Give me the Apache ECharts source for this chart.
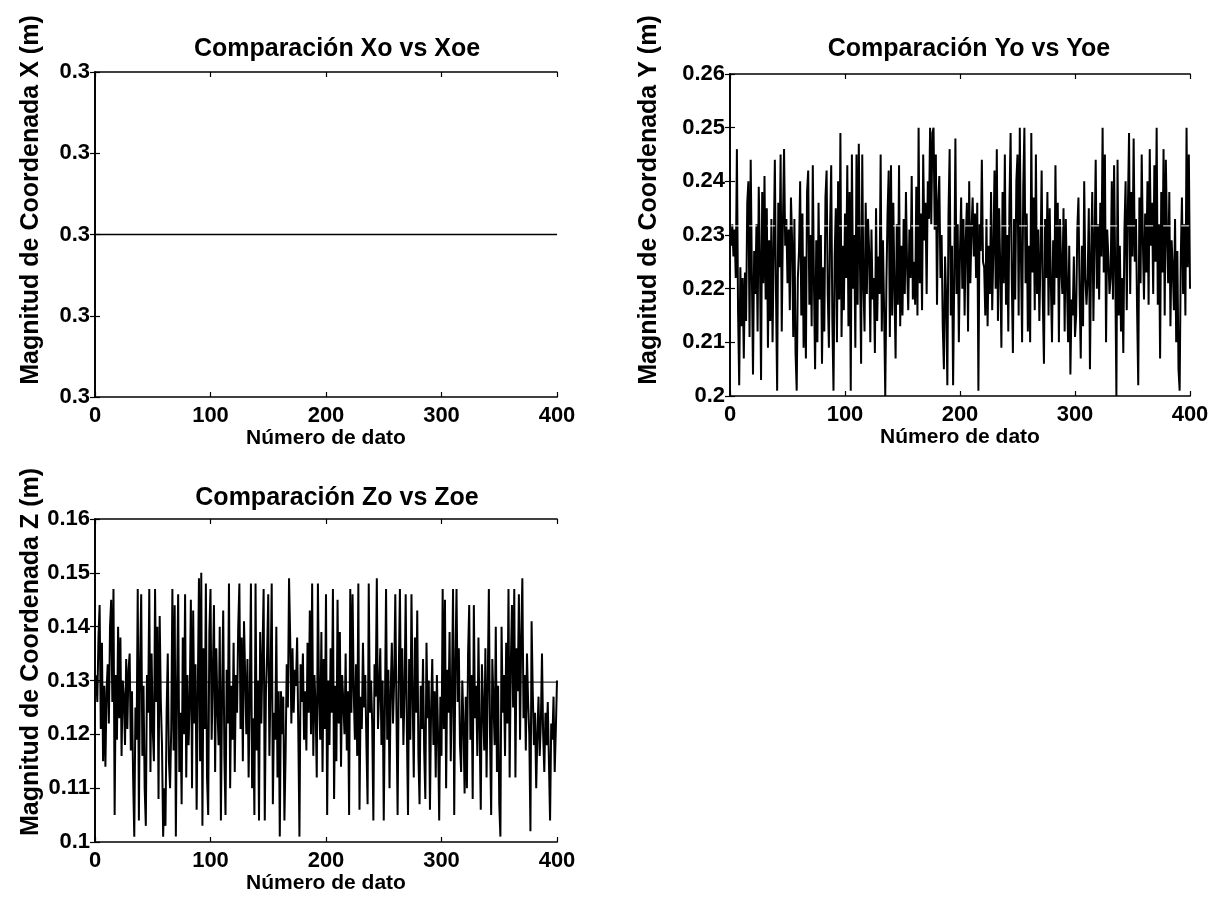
<!DOCTYPE html>
<html>
<head>
<meta charset="utf-8">
<script src="https://cdn.jsdelivr.net/npm/echarts@6/dist/echarts.min.js"></script>
<style>
  html, body { margin: 0; padding: 0; background: #ffffff; }
  #chart { width: 1218px; height: 900px; }
</style>
</head>
<body>
<div id="chart"></div>
<script>
// Tick values of the shared x axis (sample number)
const xTicks = [0, 100, 200, 300, 400];

// Constant X coordinate: observed and estimated coincide
const xoLevel = 0.3;

// Observed Y coordinate, samples 1..400 (m)
const yoValues = [
  0.228, 0.232, 0.226, 0.231, 0.222, 0.246, 0.216, 0.202, 0.224, 0.213,
  0.222, 0.207, 0.223, 0.214, 0.236, 0.240, 0.211, 0.244, 0.223, 0.204,
  0.227, 0.219, 0.232, 0.212, 0.239, 0.226, 0.203, 0.238, 0.221, 0.241,
  0.218, 0.235, 0.209, 0.229, 0.214, 0.233, 0.210, 0.227, 0.244, 0.219,
  0.201, 0.236, 0.224, 0.245, 0.212, 0.232, 0.246, 0.228, 0.233, 0.221,
  0.231, 0.216, 0.237, 0.229, 0.211, 0.233, 0.208, 0.201, 0.222, 0.227,
  0.240, 0.215, 0.234, 0.209, 0.226, 0.207, 0.238, 0.242, 0.217, 0.230,
  0.213, 0.243, 0.221, 0.205, 0.229, 0.210, 0.236, 0.218, 0.230, 0.206,
  0.224, 0.212, 0.237, 0.242, 0.219, 0.209, 0.231, 0.243, 0.214, 0.201,
  0.226, 0.235, 0.210, 0.240, 0.218, 0.249, 0.211, 0.228, 0.216, 0.234,
  0.222, 0.243, 0.213, 0.238, 0.201, 0.245, 0.220, 0.230, 0.209, 0.245,
  0.217, 0.247, 0.225, 0.206, 0.245, 0.221, 0.212, 0.236, 0.219, 0.233,
  0.227, 0.210, 0.231, 0.218, 0.222, 0.208, 0.235, 0.214, 0.226, 0.219,
  0.245, 0.212, 0.229, 0.216, 0.200, 0.221, 0.234, 0.242, 0.211, 0.243,
  0.215, 0.236, 0.220, 0.207, 0.232, 0.217, 0.243, 0.213, 0.228, 0.215,
  0.233, 0.219, 0.238, 0.224, 0.216, 0.231, 0.222, 0.241, 0.218, 0.225,
  0.217, 0.239, 0.215, 0.250, 0.221, 0.234, 0.216, 0.245, 0.229, 0.236,
  0.219, 0.240, 0.233, 0.250, 0.232, 0.249, 0.250, 0.231, 0.245, 0.217,
  0.236, 0.241, 0.222, 0.230, 0.213, 0.205, 0.226, 0.218, 0.202, 0.234,
  0.246, 0.215, 0.228, 0.202, 0.222, 0.248, 0.219, 0.232, 0.210, 0.227,
  0.237, 0.220, 0.233, 0.215, 0.229, 0.236, 0.212, 0.240, 0.221, 0.231,
  0.237, 0.226, 0.234, 0.222, 0.236, 0.201, 0.232, 0.227, 0.244, 0.225,
  0.224, 0.215, 0.233, 0.213, 0.228, 0.219, 0.238, 0.216, 0.227, 0.242,
  0.220, 0.246, 0.214, 0.235, 0.224, 0.209, 0.238, 0.221, 0.245, 0.217,
  0.230, 0.212, 0.236, 0.249, 0.222, 0.208, 0.233, 0.218, 0.240, 0.245,
  0.215, 0.250, 0.226, 0.210, 0.239, 0.250, 0.221, 0.234, 0.212, 0.228,
  0.210, 0.249, 0.223, 0.237, 0.216, 0.245, 0.219, 0.231, 0.214, 0.226,
  0.242, 0.218, 0.206, 0.233, 0.222, 0.238, 0.215, 0.235, 0.221, 0.210,
  0.229, 0.217, 0.243, 0.222, 0.236, 0.210, 0.233, 0.224, 0.219, 0.235,
  0.212, 0.233, 0.221, 0.210, 0.228, 0.204, 0.218, 0.215, 0.226, 0.211,
  0.215, 0.231, 0.237, 0.219, 0.207, 0.228, 0.213, 0.240, 0.222, 0.217,
  0.222, 0.235, 0.205, 0.226, 0.238, 0.214, 0.229, 0.244, 0.220, 0.232,
  0.218, 0.236, 0.226, 0.250, 0.223, 0.245, 0.210, 0.231, 0.226, 0.219,
  0.222, 0.240, 0.218, 0.243, 0.223, 0.200, 0.244, 0.215, 0.228, 0.212,
  0.222, 0.208, 0.231, 0.240, 0.216, 0.235, 0.249, 0.219, 0.238, 0.226,
  0.248, 0.225, 0.233, 0.216, 0.202, 0.237, 0.221, 0.245, 0.229, 0.218,
  0.234, 0.223, 0.240, 0.217, 0.246, 0.228, 0.236, 0.219, 0.243, 0.225,
  0.250, 0.217, 0.232, 0.207, 0.238, 0.223, 0.246, 0.215, 0.244, 0.230,
  0.221, 0.238, 0.213, 0.229, 0.224, 0.216, 0.233, 0.210, 0.227, 0.205,
  0.201, 0.226, 0.237, 0.219, 0.232, 0.215, 0.250, 0.224, 0.245, 0.220
];
// Estimated Y coordinate (constant level)
const yoeLevel = 0.2317;

// Observed Z coordinate, samples 1..400 (m)
const zoValues = [
  0.131, 0.126, 0.138, 0.144, 0.121, 0.137, 0.115, 0.129, 0.114, 0.128,
  0.133, 0.122, 0.140, 0.145, 0.126, 0.147, 0.105, 0.131, 0.119, 0.140,
  0.123, 0.138, 0.116, 0.130, 0.127, 0.118, 0.134, 0.121, 0.132, 0.135,
  0.117, 0.128, 0.112, 0.101, 0.125, 0.119, 0.147, 0.104, 0.133, 0.146,
  0.116, 0.129, 0.110, 0.103, 0.131, 0.124, 0.147, 0.113, 0.135, 0.121,
  0.115, 0.147, 0.126, 0.140, 0.108, 0.142, 0.126, 0.118, 0.101, 0.110,
  0.103, 0.124, 0.135, 0.115, 0.110, 0.121, 0.147, 0.117, 0.144, 0.101,
  0.128, 0.146, 0.113, 0.124, 0.107, 0.138, 0.120, 0.146, 0.112, 0.131,
  0.118, 0.126, 0.145, 0.110, 0.143, 0.122, 0.133, 0.106, 0.128, 0.149,
  0.115, 0.150, 0.103, 0.136, 0.121, 0.148, 0.112, 0.105, 0.139, 0.147,
  0.119, 0.131, 0.144, 0.113, 0.136, 0.125, 0.118, 0.140, 0.104, 0.127,
  0.143, 0.116, 0.105, 0.132, 0.122, 0.148, 0.110, 0.129, 0.119, 0.137,
  0.113, 0.131, 0.124, 0.140, 0.148, 0.121, 0.138, 0.115, 0.141, 0.131,
  0.120, 0.134, 0.112, 0.127, 0.148, 0.110, 0.123, 0.105, 0.148, 0.117,
  0.130, 0.104, 0.139, 0.122, 0.135, 0.147, 0.104, 0.128, 0.135, 0.146,
  0.116, 0.130, 0.148, 0.107, 0.124, 0.119, 0.140, 0.112, 0.128, 0.101,
  0.128, 0.120, 0.127, 0.104, 0.116, 0.133, 0.125, 0.149, 0.138, 0.122,
  0.136, 0.124, 0.132, 0.129, 0.138, 0.121, 0.101, 0.133, 0.126, 0.135,
  0.119, 0.128, 0.117, 0.137, 0.124, 0.143, 0.120, 0.148, 0.116, 0.131,
  0.125, 0.112, 0.148, 0.127, 0.119, 0.139, 0.113, 0.134, 0.121, 0.146,
  0.105, 0.130, 0.118, 0.136, 0.124, 0.147, 0.108, 0.129, 0.115, 0.145,
  0.122, 0.139, 0.114, 0.131, 0.126, 0.120, 0.135, 0.117, 0.128, 0.105,
  0.147, 0.124, 0.146, 0.128, 0.119, 0.133, 0.116, 0.148, 0.106, 0.127,
  0.121, 0.137, 0.125, 0.131, 0.118, 0.107, 0.148, 0.124, 0.130, 0.122,
  0.104, 0.133, 0.127, 0.149, 0.121, 0.128, 0.136, 0.118, 0.130, 0.104,
  0.125, 0.147, 0.119, 0.132, 0.110, 0.128, 0.137, 0.122, 0.130, 0.146,
  0.124, 0.105, 0.131, 0.147, 0.123, 0.136, 0.118, 0.128, 0.146, 0.121,
  0.105, 0.134, 0.119, 0.146, 0.127, 0.112, 0.138, 0.124, 0.143, 0.116,
  0.107, 0.129, 0.121, 0.134, 0.117, 0.108, 0.137, 0.123, 0.130, 0.106,
  0.125, 0.134, 0.118, 0.128, 0.112, 0.131, 0.120, 0.104, 0.127, 0.116,
  0.147, 0.121, 0.145, 0.110, 0.132, 0.124, 0.139, 0.115, 0.128, 0.147,
  0.105, 0.133, 0.147, 0.126, 0.136, 0.118, 0.113, 0.130, 0.122, 0.109,
  0.127, 0.110, 0.135, 0.144, 0.119, 0.131, 0.108, 0.144, 0.123, 0.129,
  0.116, 0.138, 0.121, 0.106, 0.133, 0.125, 0.117, 0.136, 0.112, 0.129,
  0.147, 0.120, 0.105, 0.134, 0.126, 0.118, 0.140, 0.113, 0.129, 0.107,
  0.101, 0.140, 0.124, 0.131, 0.116, 0.137, 0.122, 0.147, 0.112, 0.133,
  0.144, 0.125, 0.147, 0.112, 0.136, 0.128, 0.146, 0.119, 0.138, 0.149,
  0.123, 0.131, 0.117, 0.135, 0.126, 0.120, 0.102, 0.141, 0.128, 0.118,
  0.124, 0.110, 0.120, 0.127, 0.116, 0.122, 0.135, 0.120, 0.113, 0.124,
  0.118, 0.126, 0.115, 0.104, 0.122, 0.119, 0.127, 0.113, 0.121, 0.130
];
// Estimated Z coordinate (constant level)
const zoeLevel = 0.1297;

// Axis ranges of the three panels: [min, max, interval]
const xRangeY = [0.2998, 0.3002, 0.0001];
const yRangeY = [0.20, 0.26, 0.01];
const zRangeY = [0.10, 0.16, 0.01];

const FONT = "'Liberation Sans', Arial, Helvetica, sans-serif";
const INK = '#000000';

// Sample numbers 1..N paired with values
function pairs(values) {
  return values.map((v, i) => [i + 1, v]);
}
function level(value, n) {
  return [[1, value], [n, value]];
}

const grids = [
  { left: 95, top: 72, width: 462, height: 325 },
  { left: 730, top: 74, width: 460, height: 322 },
  { left: 95, top: 519, width: 462, height: 323 }
];

const tickStyle = { show: true, inside: true, length: 5, lineStyle: { color: INK, width: 1.2 } };
const lineStyle = { show: true, lineStyle: { color: INK, width: 1.7 } };

const xAxes = [];
const yAxes = [];
const yRanges = [xRangeY, yRangeY, zRangeY];
const yFormatters = [
  v => v.toFixed(1),
  v => (Math.round(v * 100) / 100).toString(),
  v => (Math.round(v * 100) / 100).toString()
];

grids.forEach((g, gi) => {
  // bottom axis with labels
  xAxes.push({
    gridIndex: gi, type: 'value', position: 'bottom',
    min: xTicks[0], max: xTicks[xTicks.length - 1], interval: xTicks[1] - xTicks[0],
    name: 'Número de dato', nameLocation: 'middle', nameGap: 31,
    nameTextStyle: { fontFamily: FONT, fontSize: 21, fontWeight: 'bold', color: INK },
    axisLine: lineStyle, axisTick: tickStyle,
    axisLabel: { margin: 8, fontFamily: FONT, fontSize: 22, fontWeight: 'bold', color: INK },
    splitLine: { show: false }
  });
  // top mirror axis (ticks only)
  xAxes.push({
    gridIndex: gi, type: 'value', position: 'top',
    min: xTicks[0], max: xTicks[xTicks.length - 1], interval: xTicks[1] - xTicks[0],
    axisLine: lineStyle, axisTick: tickStyle, axisLabel: { show: false },
    splitLine: { show: false }
  });
  const r = yRanges[gi];
  yAxes.push({
    gridIndex: gi, type: 'value', position: 'left',
    min: r[0], max: r[1], interval: r[2],
    axisLine: lineStyle, axisTick: tickStyle,
    axisLabel: { margin: 5, fontFamily: FONT, fontSize: 22, fontWeight: 'bold', color: INK,
                 formatter: yFormatters[gi] },
    splitLine: { show: false }
  });
  // right mirror axis (ticks only)
  yAxes.push({
    gridIndex: gi, type: 'value', position: 'right',
    min: r[0], max: r[1], interval: r[2],
    axisLine: lineStyle, axisTick: tickStyle, axisLabel: { show: false },
    splitLine: { show: false }
  });
});

const N = yoValues.length;
const titleStyle = { fontFamily: FONT, fontSize: 25, fontWeight: 'bold', color: INK };
const nameStyle = { fontFamily: FONT, fontSize: 25, fontWeight: 'bold', fill: INK,
                    textAlign: 'center', textVerticalAlign: 'middle' };

const option = {
  backgroundColor: '#ffffff',
  animation: false,
  grid: grids,
  xAxis: xAxes,
  yAxis: yAxes,
  title: [
    { text: 'Comparación Xo vs Xoe', left: 332, top: 32, textAlign: 'center', textStyle: titleStyle },
    { text: 'Comparación Yo vs Yoe', left: 964, top: 32, textAlign: 'center', textStyle: titleStyle },
    { text: 'Comparación Zo vs Zoe', left: 332, top: 481, textAlign: 'center', textStyle: titleStyle }
  ],
  graphic: [
    { type: 'text', x: 31, y: 200, rotation: Math.PI / 2,
      style: Object.assign({ text: 'Magnitud de Coordenada X (m)' }, nameStyle) },
    { type: 'text', x: 649, y: 200, rotation: Math.PI / 2,
      style: Object.assign({ text: 'Magnitud de Coordenada Y (m)' }, nameStyle) },
    { type: 'text', x: 31, y: 652, rotation: Math.PI / 2,
      style: Object.assign({ text: 'Magnitud de Coordenada Z (m)' }, nameStyle) }
  ],
  series: [
    { name: 'Xo', type: 'line', xAxisIndex: 0, yAxisIndex: 0, data: level(xoLevel, N),
      symbol: 'none', lineStyle: { color: INK, width: 1.6 } },
    { name: 'Yo', type: 'line', xAxisIndex: 2, yAxisIndex: 2, data: pairs(yoValues),
      symbol: 'none', lineStyle: { color: INK, width: 2 } },
    { name: 'Yoe', type: 'line', xAxisIndex: 2, yAxisIndex: 2, data: level(yoeLevel, N),
      symbol: 'none', lineStyle: { color: '#ffffff', width: 1, type: [8, 10] }, z: 3 },
    { name: 'Zo', type: 'line', xAxisIndex: 4, yAxisIndex: 4, data: pairs(zoValues),
      symbol: 'none', lineStyle: { color: INK, width: 2 } },
    { name: 'Zoe', type: 'line', xAxisIndex: 4, yAxisIndex: 4, data: level(zoeLevel, N),
      symbol: 'none', lineStyle: { color: INK, width: 1 }, z: 3 }
  ]
};

const chart = echarts.init(document.getElementById('chart'), null, { renderer: 'canvas' });
chart.setOption(option);
</script>
</body>
</html>
